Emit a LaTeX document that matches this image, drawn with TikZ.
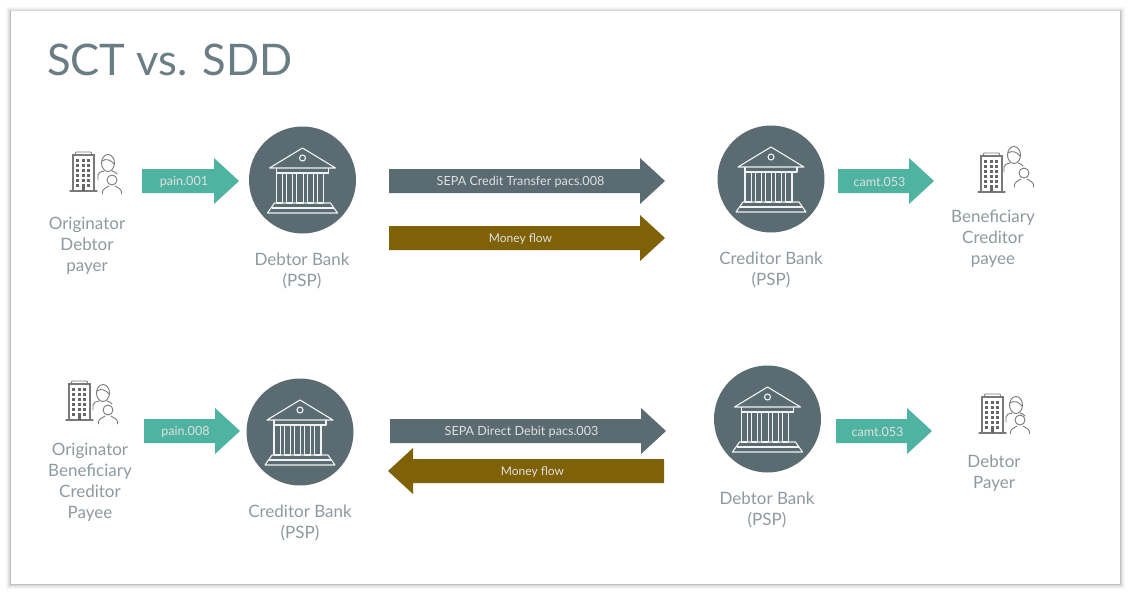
\documentclass[tikz,border=0pt]{standalone}
\usepackage{fontspec}
\setmainfont{Lato}
\definecolor{slate}{HTML}{5A6B72}
\definecolor{teal1}{HTML}{4FB3A1}
\definecolor{brownf}{HTML}{7F6107}
\definecolor{lab}{HTML}{8E9A9F}
\definecolor{ttl}{HTML}{6A7C84}
\definecolor{ico}{HTML}{77797A}
\tikzset{
 lbl/.style={text=lab,font=\fontsize{17}{21}\selectfont,align=center,inner sep=0pt},
 arrowtext/.style={text=white!88!black,font=\fontsize{12.6}{14}\selectfont,inner sep=0pt},
 bankdisc/.style={circle,fill=slate,minimum size=107pt,inner sep=0pt},
 bankline/.style={draw=white!92!slate,line width=1.1pt,line join=round},
 icoline/.style={draw=ico,line width=.9pt,line cap=round,fill=none},
 pics/bank/.style={code={
  \draw[bankline] (-33,-12)--(0,-32)--(33,-12)--cycle;
  \draw[bankline] (0,-22) circle (3);
  \draw[bankline] (-26,-12) -- (-26,-7) -- (26,-7) -- (26,-12);
  \foreach \x in {-26,-15.8,-5.6,4.6,14.8}{\draw[bankline] (\x,-7) rectangle ++(6.2,30);}
  \draw[bankline] (-26,-7) -- (26,-7);
  \draw[bankline] (-28,23) -- (28,23) -- (35,33) -- (-35,33) -- cycle;
  \draw[bankline] (-31,28) -- (31,28);
 }},
 pics/building/.style={code={
  \draw[icoline,line width=1.2pt] (0,0) rectangle (21,-36);
  \draw[icoline] (2,-36)--(3,-39)--(18,-39)--(19,-36);
  \draw[icoline,line width=1.3pt] (-3,0)--(24,0);
  \foreach \i in {0,...,5}\foreach \j in {0,1,2}{\fill[ico!85!black] (3.4+\j*5.4,-32.5+\i*5) rectangle ++(3,3);}
  \fill[ico!85!black] (9,-4.5) rectangle (12,0);
 }},
 pics/woman/.style={code={
  \draw[icoline] (0,0) circle (6.5 and 8.5);
  \draw[icoline] (-6,-2) .. controls (-2,-5) and (3,-3) .. (6,1);
  \draw[icoline] (-10,17) -- (-10,12) .. controls (-10,9) and (-7,9) .. (-4,8);
  \draw[icoline] (4,8) .. controls (6,9) and (8,9) .. (9,11);
 }},
 pics/man/.style={code={
  \draw[icoline] (0,0) circle (5);
  \draw[icoline] (-9.5,14) -- (-9.5,12) .. controls (-9.5,9) and (-6,8) .. (-3,6);
  \draw[icoline] (3,6) .. controls (6,8) and (9.5,9) .. (9.5,12) -- (9.5,14);
 }}
}
\newcommand{\flowarrow}[6]{% name, tail x, tip x, y, colour, text
 \pgfmathsetmacro{\headx}{#3-(#3>#2?25:-25)}
 \pgfmathsetmacro{\textx}{(#2+\headx)/2+(#3>#2?6:-6)}
 \fill[#5] (#2,#4-12) -- (\headx,#4-12) -- (\headx,#4-23) -- (#3,#4) -- (\headx,#4+23) -- (\headx,#4+12) -- (#2,#4+12) -- cycle;
 \node[arrowtext] (#1) at (\textx,#4+1) {#6};
}
\newcommand{\mflow}{\fontsize{12}{14}\selectfont Money flow}
\begin{document}
\begin{tikzpicture}[x=1pt,y=-1pt]
\useasboundingbox (0,0) rectangle (1130,594);
\fill[white] (0,0) rectangle (1130,594);
\foreach \o/\c in {5/97,4/94,3/90,2/85,1/75}{\fill[black!\the\numexpr100-\c\relax] (11-\o,11-\o+1) rectangle (1120+\o,584+\o);}
\fill[white] (11,11) rectangle (1120,584);
\node[text=ttl,font=\fontsize{43.5}{50}\selectfont,anchor=west,inner sep=0pt] (title) at (47,60) {SCT vs. SDD};

\pic at (73,191) {building}; \pic at (108,163) {woman}; \pic at (112,180) {man};
\pic at (981,192) {building}; \pic at (1014,155) {woman}; \pic at (1024,173) {man};
\pic at (69,420) {building}; \pic at (103,393) {woman}; \pic at (108,410) {man};
\pic at (982,433) {building}; \pic at (1016,405) {woman}; \pic at (1020,420) {man};

\node[bankdisc] (b1) at (302.5,180) {}; \pic at (b1) {bank};
\node[bankdisc] (b2) at (771,179) {}; \pic at (b2) {bank};
\node[bankdisc] (b3) at (300,432) {}; \pic at (b3) {bank};
\node[bankdisc] (b4) at (767.5,419) {}; \pic at (b4) {bank};

\flowarrow{a1}{142}{239}{181}{teal1}{pain.001}
\flowarrow{a2}{838}{934}{181}{teal1}{camt.053}
\flowarrow{a3}{144}{240}{431}{teal1}{pain.008}
\flowarrow{a4}{836}{932}{431}{teal1}{camt.053}
\flowarrow{s1}{389}{665}{181}{slate}{SEPA Credit Transfer pacs.008}
\flowarrow{m1}{389}{665}{238}{brownf}{\mflow}
\flowarrow{s2}{390}{666}{431}{slate}{SEPA Direct Debit pacs.003}
\flowarrow{m2}{664}{388}{471}{brownf}{\mflow}

\node[lbl] (t1) at (87,245.5) {Originator\\Debtor\\payer};
\node[lbl] (t2) at (302,271) {Debtor Bank\\(PSP)};
\node[lbl] (t3) at (771,270) {Creditor Bank\\(PSP)};
\node[lbl] (t4) at (993,239) {Beneficiary\\Creditor\\payee};
\node[lbl] (t5) at (90,482) {Originator\\Beneficiary\\Creditor\\Payee};
\node[lbl] (t6) at (300,523) {Creditor Bank\\(PSP)};
\node[lbl] (t7) at (767,510) {Debtor Bank\\(PSP)};
\node[lbl] (t8) at (994,473) {Debtor\\Payer};
\end{tikzpicture}
\end{document}
